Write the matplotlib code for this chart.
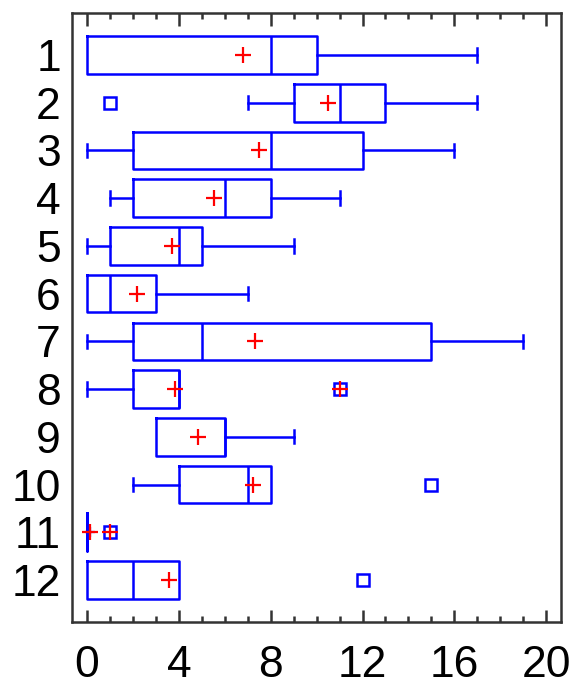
import matplotlib
matplotlib.use("Agg")
import matplotlib.pyplot as plt
from matplotlib.ticker import MultipleLocator

plt.rcParams['font.family'] = ['Liberation Sans', 'DejaVu Sans']

labels = ['1', '2', '3', '4', '5', '6', '7', '8', '9', '10', '11', '12']
whislo = [0, 7, 0, 1, 0, 0, 0, 0, 3, 2, 0, 0]
q1 = [0, 9, 2, 2, 1, 0, 2, 2, 3, 4, 0, 0]
med = [8, 11, 8, 6, 4, 1, 5, 4, 6, 7, 0, 2]
q3 = [10, 13, 12, 8, 5, 3, 15, 4, 6, 8, 0, 4]
whishi = [17, 17, 16, 11, 9, 7, 19, 4, 9, 8, 0, 4]
means = [6.8, 10.5, 7.5, 5.55, 3.72, 2.17, 7.3, 3.82, 4.83, 7.24, 0.15, 3.56]
outside = [[], [1], [], [], [], [], [], [], [], [15], [], [12]]
far_out = [[], [], [], [], [], [], [], [11], [], [], [1], []]

blue = '#0000ff'
red = '#ff0000'

fig = plt.figure(figsize=(5.72, 6.86), dpi=100)
ax = fig.add_axes([0.1259, 0.0937, 0.855, 0.8878])

stats = []
for i in range(len(labels)):
    stats.append(dict(label=labels[i], whislo=whislo[i], q1=q1[i], med=med[i],
                      q3=q3[i], whishi=whishi[i], mean=means[i],
                      fliers=outside[i] + far_out[i]))

pos = list(range(1, len(labels) + 1))
lw = 1.8
bp = ax.bxp(stats, positions=pos, vert=False, widths=0.79, showmeans=True,
            capwidths=0.28,
            boxprops=dict(color=blue, linewidth=lw),
            medianprops=dict(color=blue, linewidth=lw),
            whiskerprops=dict(color=blue, linewidth=lw),
            capprops=dict(color=blue, linewidth=lw),
            flierprops=dict(marker='s', markersize=8.5, markerfacecolor='none',
                            markeredgecolor=blue, markeredgewidth=1.8),
            meanprops=dict(marker='+', markersize=11, markeredgecolor=red,
                           markeredgewidth=1.6))

# hide caps of collapsed whiskers
for i in range(len(labels)):
    if whislo[i] == q1[i]:
        bp['caps'][2 * i].set_visible(False)
    if whishi[i] == q3[i]:
        bp['caps'][2 * i + 1].set_visible(False)

# far outside points: red plus inside the square
for i, vals in enumerate(far_out):
    for v in vals:
        ax.plot([v], [pos[i]], marker='+', color=red, markersize=11,
                markeredgewidth=1.6, linestyle='none')
# small blue cross on the collapsed group
ax.plot([means[10]], [pos[10]], marker='+', color=blue, markersize=7,
        markeredgewidth=1.6, linestyle='none')

ax.set_xlim(-0.654, 20.65)
ax.set_ylim(12.874, 0.114)
ax.set_yticks(pos)
ax.set_yticklabels(labels)
ax.xaxis.set_major_locator(MultipleLocator(4))
ax.xaxis.set_minor_locator(MultipleLocator(1))
ax.tick_params(axis='x', which='both', direction='in', top=True, bottom=True,
               width=1.8, color='#333333')
ax.tick_params(axis='x', which='major', length=9, labelsize=32, pad=17)
ax.tick_params(axis='x', which='minor', length=4.5)
ax.tick_params(axis='y', length=0, labelsize=32, pad=8)
for s in ax.spines.values():
    s.set_linewidth(1.8)
    s.set_color('#333333')

fig.savefig('out.png', dpi=100)
